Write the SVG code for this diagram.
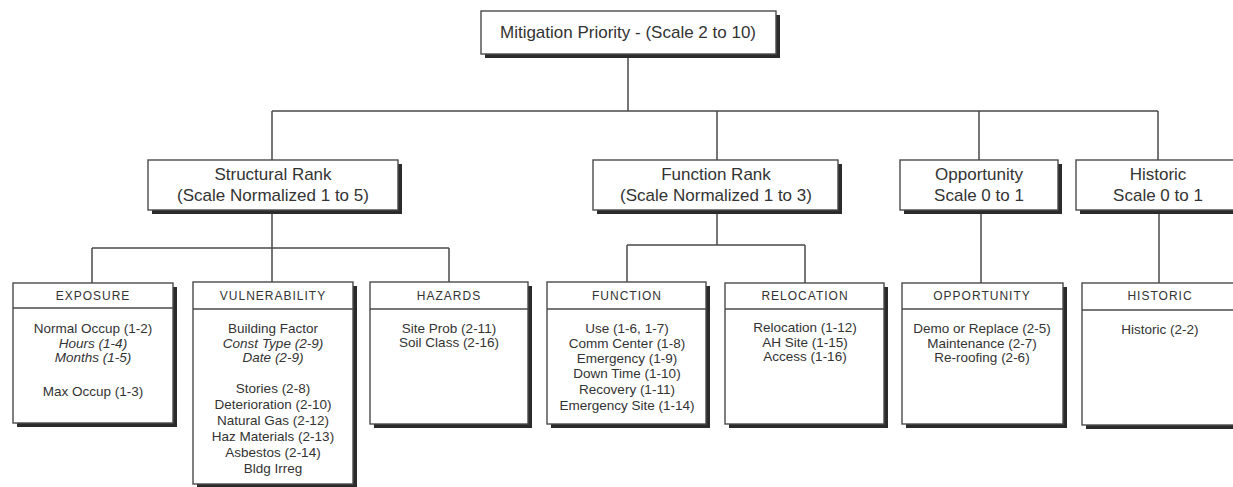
<svg xmlns="http://www.w3.org/2000/svg" width="1233" height="487" viewBox="0 0 1233 487">
<style>
.bg{fill:#ffffff}
.box{fill:#ffffff;stroke:#4a4a4a;stroke-width:1.4}
.sh{fill:#2b2b2b}
.div{stroke:#4a4a4a;stroke-width:1.4}
.ln{stroke:#4a4a4a;stroke-width:1.5;fill:none}
text{font-family:"Liberation Sans",Arial,Helvetica,sans-serif;fill:#333;text-anchor:middle}
.t1{font-size:17px}
.t2{font-size:17px}
.hd{font-size:12px;letter-spacing:1px}
.bd{font-size:13.5px}
.it{font-style:italic}
</style>
<rect class="bg" x="0" y="0" width="1233" height="487"/>
<g id="connectors">
<path class="ln" d="M628 54V111M272 111H1158M272 111V160M717 111V160M979 111V160M1158 111V160"/>
<path class="ln" d="M272 210V248M92 248H449M92 248V283M272 248V283M449 248V283"/>
<path class="ln" d="M717 210V245M627 245H805M627 245V283M805 245V283"/>
<path class="ln" d="M981 210V283M1159 210V283"/>
</g>
<g id="n-mitigation">
<rect class="sh" x="485" y="15" width="295" height="43"/>
<rect class="box" x="481" y="11" width="295" height="43"/>
<text class="t1" x="628" y="38">Mitigation Priority - (Scale 2 to 10)</text>
</g>
<g id="n-structural">
<rect class="sh" x="152" y="164" width="250" height="50"/>
<rect class="box" x="148" y="160" width="250" height="50"/>
<text class="t2" x="273" y="180">Structural Rank</text>
<text class="t2" x="273" y="201">(Scale Normalized 1 to 5)</text>
</g>
<g id="n-function">
<rect class="sh" x="597" y="164" width="245" height="50"/>
<rect class="box" x="593" y="160" width="245" height="50"/>
<text class="t2" x="716" y="180">Function Rank</text>
<text class="t2" x="716" y="201">(Scale Normalized 1 to 3)</text>
</g>
<g id="n-opportunity">
<rect class="sh" x="904" y="164" width="158" height="50"/>
<rect class="box" x="900" y="160" width="158" height="50"/>
<text class="t2" x="979" y="180">Opportunity</text>
<text class="t2" x="979" y="201">Scale 0 to 1</text>
</g>
<g id="n-historic">
<rect class="sh" x="1080" y="164" width="170" height="50"/>
<rect class="box" x="1076" y="160" width="170" height="50"/>
<text class="t2" x="1158" y="180">Historic</text>
<text class="t2" x="1158" y="201">Scale 0 to 1</text>
</g>
<g id="n-exposure">
<rect class="sh" x="17" y="287" width="160" height="140"/>
<rect class="box" x="13" y="283" width="160" height="140"/>
<line class="div" x1="13" y1="308" x2="173" y2="308"/>
<text class="hd" x="93" y="300">EXPOSURE</text>
<text class="bd" x="93" y="333">Normal Occup (1-2)</text>
<text class="bd it" x="93" y="348">Hours (1-4)</text>
<text class="bd it" x="93" y="362">Months (1-5)</text>
<text class="bd" x="93" y="396">Max Occup (1-3)</text>
</g>
<g id="n-vulnerability">
<rect class="sh" x="197" y="286" width="160" height="202"/>
<rect class="box" x="193" y="282" width="160" height="202"/>
<line class="div" x1="193" y1="309" x2="353" y2="309"/>
<text class="hd" x="273" y="300">VULNERABILITY</text>
<text class="bd" x="273" y="333">Building Factor</text>
<text class="bd it" x="273" y="348">Const Type (2-9)</text>
<text class="bd it" x="273" y="362">Date (2-9)</text>
<text class="bd" x="273" y="393">Stories (2-8)</text>
<text class="bd" x="273" y="409">Deterioration (2-10)</text>
<text class="bd" x="273" y="425">Natural Gas (2-12)</text>
<text class="bd" x="273" y="441">Haz Materials (2-13)</text>
<text class="bd" x="273" y="457">Asbestos (2-14)</text>
<text class="bd" x="273" y="473">Bldg Irreg</text>
</g>
<g id="n-hazards">
<rect class="sh" x="374" y="286" width="158" height="142"/>
<rect class="box" x="370" y="282" width="158" height="142"/>
<line class="div" x1="370" y1="309" x2="528" y2="309"/>
<text class="hd" x="449" y="300">HAZARDS</text>
<text class="bd" x="449" y="333">Site Prob (2-11)</text>
<text class="bd" x="449" y="347">Soil Class (2-16)</text>
</g>
<g id="n-function-detail">
<rect class="sh" x="551" y="286" width="159" height="142"/>
<rect class="box" x="547" y="282" width="159" height="142"/>
<line class="div" x1="547" y1="309" x2="706" y2="309"/>
<text class="hd" x="627" y="300">FUNCTION</text>
<text class="bd" x="627" y="333">Use (1-6, 1-7)</text>
<text class="bd" x="627" y="348">Comm Center (1-8)</text>
<text class="bd" x="627" y="363">Emergency (1-9)</text>
<text class="bd" x="627" y="378">Down Time (1-10)</text>
<text class="bd" x="627" y="394">Recovery (1-11)</text>
<text class="bd" x="627" y="410">Emergency Site (1-14)</text>
</g>
<g id="n-relocation">
<rect class="sh" x="729" y="287" width="159" height="141"/>
<rect class="box" x="725" y="283" width="159" height="141"/>
<line class="div" x1="725" y1="309" x2="884" y2="309"/>
<text class="hd" x="805" y="300">RELOCATION</text>
<text class="bd" x="805" y="332">Relocation (1-12)</text>
<text class="bd" x="805" y="347">AH Site (1-15)</text>
<text class="bd" x="805" y="361">Access (1-16)</text>
</g>
<g id="n-opportunity-detail">
<rect class="sh" x="906" y="287" width="161" height="141"/>
<rect class="box" x="902" y="283" width="161" height="141"/>
<line class="div" x1="902" y1="309" x2="1063" y2="309"/>
<text class="hd" x="982" y="300">OPPORTUNITY</text>
<text class="bd" x="982" y="333">Demo or Replace (2-5)</text>
<text class="bd" x="982" y="348">Maintenance (2-7)</text>
<text class="bd" x="982" y="362">Re-roofing (2-6)</text>
</g>
<g id="n-historic-detail">
<rect class="sh" x="1086" y="287" width="170" height="142"/>
<rect class="box" x="1082" y="283" width="170" height="142"/>
<line class="div" x1="1082" y1="310" x2="1252" y2="310"/>
<text class="hd" x="1160" y="300">HISTORIC</text>
<text class="bd" x="1160" y="334">Historic (2-2)</text>
</g>
</svg>
